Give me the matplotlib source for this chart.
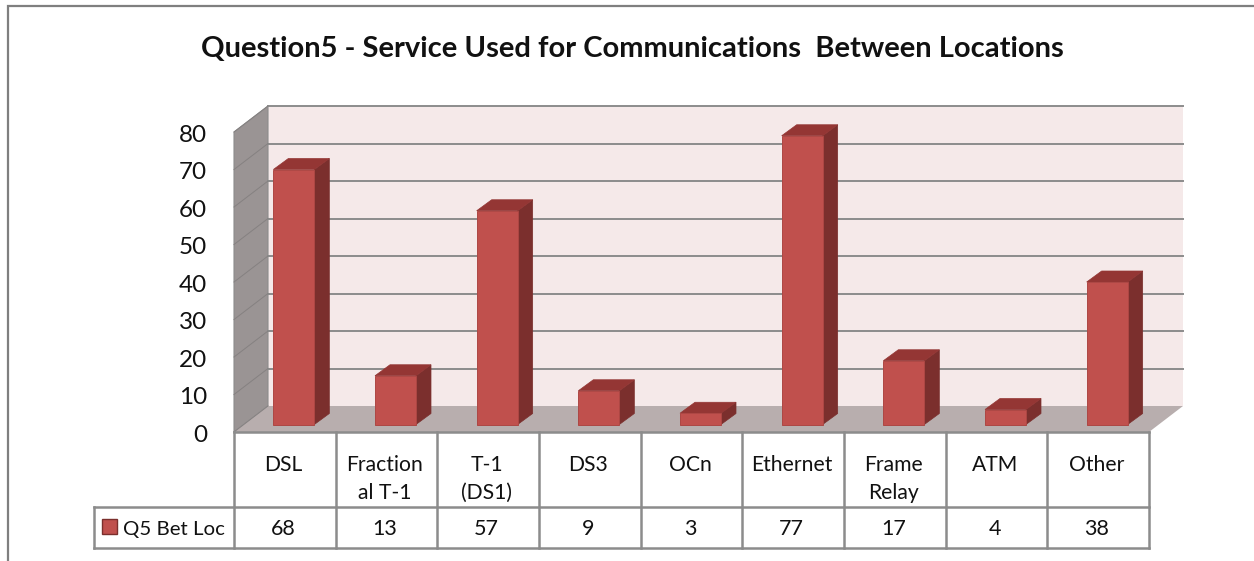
import matplotlib
matplotlib.use("Agg")
import matplotlib.pyplot as plt
from matplotlib.patches import Polygon, Rectangle

categories = ["DSL", "Fraction\nal T-1", "T-1\n(DS1)", "DS3", "OCn", "Ethernet", "Frame\nRelay", "ATM", "Other"]
values = [68, 13, 57, 9, 3, 77, 17, 4, 38]
y_ticks = [0, 10, 20, 30, 40, 50, 60, 70, 80]
series_name = "Q5 Bet Loc"
title = "Question5 - Service Used for Communications  Between Locations"

W, H = 1254, 561
plt.rcParams["font.family"] = ["Lato", "DejaVu Sans"]

GRAY = "#8c8c8c"
FRONT = "#c0504d"
SIDE = "#7b2f2d"
TOP = "#943634"
TEXT = "#111111"

fig = plt.figure(figsize=(W / 100, H / 100), dpi=100, facecolor="white")

# background axes in pixels: frame, walls, table
bg = fig.add_axes([0, 0, 1, 1])
bg.set_xlim(0, W)
bg.set_ylim(H, 0)
bg.axis("off")

bg.plot([8, 8, W], [H, 6, 6], color="#7f7f7f", lw=1.6, solid_joinstyle="miter")

x0, x1 = 234, 1149
depth_x, depth_y = 34, 26
floor_y, unit = 432, 3.75


def tick_y(v):
    return floor_y - v * unit


bg.add_patch(Rectangle((x0 + depth_x, tick_y(80) - depth_y), x1 - x0, 80 * unit, fc="#f5e9e9", ec="none"))
bg.add_patch(Polygon([(x0, tick_y(80)), (x0 + depth_x, tick_y(80) - depth_y),
                      (x0 + depth_x, floor_y - depth_y), (x0, floor_y)], fc="#9a9494", ec="#8c8c8c", lw=0.8))
bg.add_patch(Polygon([(x0, floor_y), (x0 + depth_x, floor_y - depth_y),
                      (x1 + depth_x, floor_y - depth_y), (x1, floor_y)], fc="#b8aeae", ec="none"))

for v in y_ticks:
    y = tick_y(v)
    if v > 0:
        bg.plot([x0 + depth_x, x1 + depth_x], [y - depth_y, y - depth_y], color=GRAY, lw=1.4)
    bg.plot([x0, x0 + depth_x], [y, y - depth_y], color="#858181", lw=0.7)
    bg.text(207, y + 1, str(v), ha="right", va="center_baseline", fontsize=17.5, color=TEXT)

# table
cell_w = (x1 - x0) / len(categories)
row_y, bottom_y = 507, 548
legend_x = 94
for i in range(len(categories) + 1):
    x = x0 + i * cell_w
    bg.plot([x, x], [floor_y, bottom_y], color=GRAY, lw=1.8, solid_capstyle="projecting")
bg.plot([legend_x, legend_x], [row_y, bottom_y], color=GRAY, lw=1.8, solid_capstyle="projecting")
bg.plot([x0, x1], [floor_y, floor_y], color=GRAY, lw=1.8)
bg.plot([legend_x, x1], [row_y, row_y], color=GRAY, lw=1.8)
bg.plot([legend_x, x1], [bottom_y, bottom_y], color=GRAY, lw=1.8)

for i, (cat, val) in enumerate(zip(categories, values)):
    cx = x0 + (i + 0.5) * cell_w - 1.5
    for j, line in enumerate(cat.split("\n")):
        bg.text(cx, 465 + 28 * j, line, ha="center", va="center", fontsize=15.2, color=TEXT)
    bg.text(cx, 529, str(val), ha="center", va="center", fontsize=15.5, color=TEXT)

bg.add_patch(Rectangle((102, 519), 15, 15, fc=FRONT, ec=SIDE, lw=1))
bg.text(123, 529, series_name, ha="left", va="center", fontsize=14.7, color=TEXT)

fig.text(632 / W, 1 - 49 / H, title, ha="center", va="center", fontsize=21, fontweight="bold", color=TEXT)

# bar axes: y = value, x = category index
base_y = 424.5
ax = fig.add_axes([(x0 + 9) / W, 1 - base_y / H, (x1 - x0) / W, 80 * unit / H])
ax.patch.set_alpha(0)
ax.set_xlim(-0.5, len(categories) - 0.5)
ax.set_ylim(0, 80)
ax.axis("off")

bar_w = 41 / cell_w
dx = 15 / cell_w
dy = 11 / unit
for i, val in enumerate(values):
    l, r = i - bar_w / 2, i + bar_w / 2
    ax.add_patch(Polygon([(r, 0), (r + dx, dy), (r + dx, val + dy), (r, val)], fc=SIDE, ec=SIDE, lw=0.5, clip_on=False))
    ax.add_patch(Polygon([(l, val), (l + dx, val + dy), (r + dx, val + dy), (r, val)], fc=TOP, ec=TOP, lw=0.5, clip_on=False))
ax.bar(range(len(values)), values, width=bar_w, color=FRONT, edgecolor="#ad4744", linewidth=0.7, clip_on=False)

fig.savefig("out.png", dpi=100)
